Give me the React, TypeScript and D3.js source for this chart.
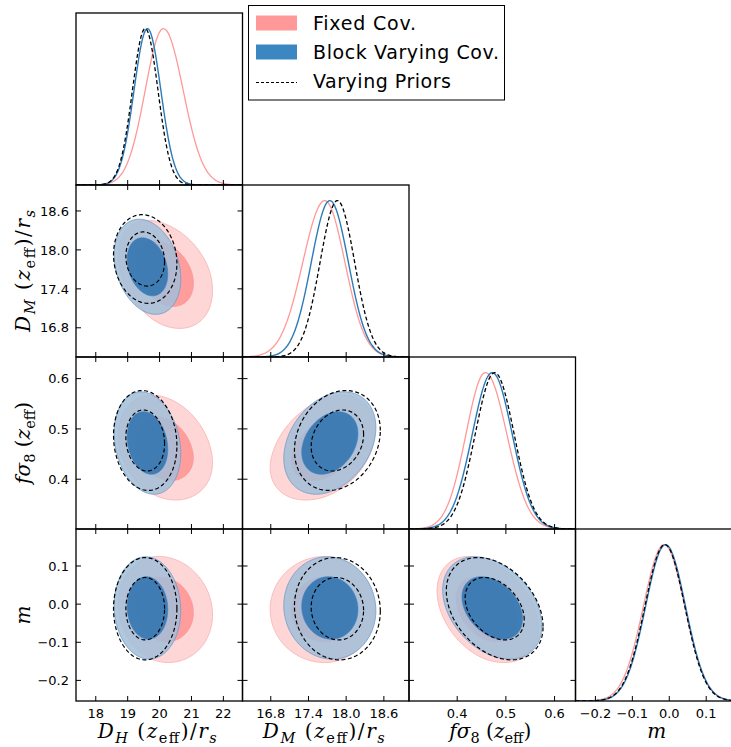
import { useEffect, useRef } from 'react';
import * as d3 from 'd3';

// parameters in plotting order: D_H, D_M, f sigma_8, m
const axisDomains: [number, number][] = [
  [17.38, 22.6],
  [16.35, 19.0],
  [0.301, 0.643],
  [-0.254, 0.197],
];
const tickValues = [
  [18, 19, 20, 21, 22],
  [16.8, 17.4, 18.0, 18.6],
  [0.4, 0.5, 0.6],
  [-0.2, -0.1, 0.0, 0.1],
];
const tickFormats = ['d', '.1f', '.1f', '.1f'];

const seriesNames = ['Fixed Cov.', 'Block Varying Cov.', 'Varying Priors'];

// posterior summaries (mean, lower / upper sigma)
const fixedMean = [20.12, 17.66, 0.458, -0.014];
const fixedSigmaLo = [0.57, 0.35, 0.04, 0.056];
const fixedSigmaHi = [0.62, 0.32, 0.044, 0.056];
const blockMean = [19.62, 17.74, 0.472, -0.01];
const blockSigmaLo = [0.42, 0.295, 0.041, 0.054];
const blockSigmaHi = [0.42, 0.295, 0.041, 0.054];
const priorsMean = [19.55, 17.86, 0.477, -0.012];
const priorsSigmaLo = [0.4, 0.275, 0.04, 0.054];
const priorsSigmaHi = [0.4, 0.275, 0.04, 0.054];

// correlations for pairs (0,1) (0,2) (0,3) (1,2) (1,3) (2,3)
const pairs = [[0, 1], [0, 2], [0, 3], [1, 2], [1, 3], [2, 3]];
const fixedCorr = [-0.33, -0.25, -0.1, 0.35, 0.0, -0.35];
const blockCorr = [-0.25, -0.2, -0.05, 0.3, -0.05, -0.35];
const priorsCorr = [-0.1, -0.1, 0.0, 0.2, -0.05, -0.35];

// chi2 levels (2 dof) for 68% and 95%
const contourLevels = [2.3, 6.17];

type Seg = [string, 'i' | 'r', boolean?];
const axisLabels: Seg[][] = [
  [['D', 'i'], ['H', 'i', true], [' (', 'r'], ['z', 'i'], ['eff', 'r', true], [')/', 'r'], ['r', 'i'], ['s', 'i', true]],
  [['D', 'i'], ['M', 'i', true], [' (', 'r'], ['z', 'i'], ['eff', 'r', true], [')/', 'r'], ['r', 'i'], ['s', 'i', true]],
  [['f', 'i'], ['σ', 'i'], ['8', 'r', true], [' (', 'r'], ['z', 'i'], ['eff', 'r', true], [')', 'r']],
  [['m', 'i']],
];
const axisLabelWidths = [119, 122, 82, 0];
const legendTextWidths = [103, 186, 138];

interface Series {
  mean: number[];
  lo: number[];
  hi: number[];
  corr: number[];
}

const series: Series[] = [
  { mean: fixedMean, lo: fixedSigmaLo, hi: fixedSigmaHi, corr: fixedCorr },
  { mean: blockMean, lo: blockSigmaLo, hi: blockSigmaHi, corr: blockCorr },
  { mean: priorsMean, lo: priorsSigmaLo, hi: priorsSigmaHi, corr: priorsCorr },
];

const W = 731;
const H = 747;

export default function App() {
  const svgRef = useRef<SVGSVGElement>(null);

  useEffect(() => {
    if (!svgRef.current) return;
    const svg = d3.select(svgRef.current);
    svg.selectAll('*').remove();

    const left0 = 76;
    const top0 = 13;
    const cellW = 166.5;
    const cellH = 172;
    const n = 4;
    const tickLen = 5;
    const mathFont = '"DejaVu Serif", "Liberation Serif", serif';
    const sansFont = '"DejaVu Sans", sans-serif';

    const xScale = (c: number) =>
      d3.scaleLinear().domain(axisDomains[c]).range([left0 + c * cellW, left0 + (c + 1) * cellW]);
    const yScale = (r: number) =>
      d3.scaleLinear().domain(axisDomains[r]).range([top0 + (r + 1) * cellH, top0 + r * cellH]);

    const defs = svg.append('defs');
    const sigma = (s: Series, k: number, d: number) => (d < 0 ? s.lo[k] : s.hi[k]);

    const contour = (s: Series, cx: number, cy: number, level: number) => {
      const idx = pairs.findIndex(p => p[0] === cx && p[1] === cy);
      const rho = s.corr[idx];
      const R = Math.sqrt(level);
      const angles = d3.range(0, 2 * Math.PI, Math.PI / 90);
      return angles.map(t => {
        const u = R * Math.cos(t);
        const v = R * (rho * Math.cos(t) + Math.sqrt(1 - rho * rho) * Math.sin(t));
        return [s.mean[cx] + u * sigma(s, cx, u), s.mean[cy] + v * sigma(s, cy, v)];
      });
    };

    const drawLabel = (sel: d3.Selection<SVGTextElement, unknown, null, undefined>, segs: Seg[], width: number) => {
      let shifted = false;
      segs.forEach(([t, st, sub]) => {
        const ts = sel.append('tspan').text(t)
          .attr('font-style', st === 'i' ? 'italic' : 'normal');
        if (sub) {
          ts.attr('font-size', 14.5);
          if (!shifted) ts.attr('dy', 5);
          shifted = true;
        } else if (shifted) {
          ts.attr('dy', -5);
          shifted = false;
        }
      });
      if (width > 0) sel.attr('textLength', width).attr('lengthAdjust', 'spacing');
    };

    for (let r = 0; r < n; r++) {
      for (let c = 0; c <= r; c++) {
        const x = xScale(c);
        const x0 = left0 + c * cellW;
        const y0 = top0 + r * cellH;
        const g = svg.append('g');
        const clipId = `clip-${r}-${c}`;
        defs.append('clipPath').attr('id', clipId)
          .append('rect').attr('x', x0).attr('y', y0).attr('width', cellW).attr('height', cellH);
        const plot = g.append('g').attr('clip-path', `url(#${clipId})`);

        if (r === c) {
          // 1D marginal, peak normalised to 1
          const y = d3.scaleLinear().domain([0, 1.1]).range([y0 + cellH, y0]);
          const xs = d3.range(0, 301).map(i => axisDomains[c][0] + (i / 300) * (axisDomains[c][1] - axisDomains[c][0]));
          const line = d3.line<number>()
            .x(v => x(v))
            .curve(d3.curveMonotoneX);
          const styles = [
            { stroke: '#ff9999', width: 1.3, dash: null },
            { stroke: '#2b7bba', width: 1.4, dash: null },
            { stroke: '#000', width: 1.3, dash: '4,2.5' },
          ];
          series.forEach((s, si) => {
            line.y(v => {
              const z = (v - s.mean[c]) / sigma(s, c, v - s.mean[c]);
              return y(Math.exp(-0.5 * z * z));
            });
            plot.append('path')
              .attr('d', line(xs))
              .attr('fill', 'none')
              .attr('stroke', styles[si].stroke)
              .attr('stroke-width', styles[si].width)
              .attr('stroke-dasharray', styles[si].dash);
          });
        } else {
          const y = yScale(r);
          const path = d3.line<number[]>()
            .x(p => x(p[0]))
            .y(p => y(p[1]))
            .curve(d3.curveLinearClosed);
          const [fixed, block, priors] = series;
          plot.append('path').attr('d', path(contour(fixed, c, r, contourLevels[1])))
            .attr('fill', '#ffd6d6').attr('stroke', '#f7b0b0').attr('stroke-width', 0.8);
          plot.append('path').attr('d', path(contour(fixed, c, r, contourLevels[0])))
            .attr('fill', '#ff9c9c').attr('stroke', '#f59090').attr('stroke-width', 0.6);
          plot.append('path').attr('d', path(contour(block, c, r, contourLevels[1])))
            .attr('fill', '#a2bed8').attr('fill-opacity', 0.85)
            .attr('stroke', '#6c9ccb').attr('stroke-width', 0.8);
          plot.append('path').attr('d', path(contour(block, c, r, contourLevels[0])))
            .attr('fill', '#3476b0').attr('fill-opacity', 0.9)
            .attr('stroke', '#3d7fbd').attr('stroke-width', 0.6);
          contourLevels.forEach(lv => {
            plot.append('path').attr('d', path(contour(priors, c, r, lv)))
              .attr('fill', 'none').attr('stroke', '#000')
              .attr('stroke-width', 1.2).attr('stroke-dasharray', '4,2.5');
          });

          // y ticks on both sides
          tickValues[r].forEach(tv => {
            const ty = y(tv);
            g.append('line').attr('x1', x0).attr('x2', x0 + tickLen).attr('y1', ty).attr('y2', ty)
              .attr('stroke', '#000').attr('stroke-width', 1);
            g.append('line').attr('x1', x0 + cellW).attr('x2', x0 + cellW - tickLen).attr('y1', ty).attr('y2', ty)
              .attr('stroke', '#000').attr('stroke-width', 1);
          });
        }

        // x ticks: bottom always, top for 2D panels
        tickValues[c].forEach(tv => {
          const tx = x(tv);
          g.append('line').attr('x1', tx).attr('x2', tx).attr('y1', y0 + cellH).attr('y2', y0 + cellH - tickLen)
            .attr('stroke', '#000').attr('stroke-width', 1);
          if (r !== c) {
            g.append('line').attr('x1', tx).attr('x2', tx).attr('y1', y0).attr('y2', y0 + tickLen)
              .attr('stroke', '#000').attr('stroke-width', 1);
          }
        });

        g.append('rect').attr('x', x0).attr('y', y0).attr('width', cellW).attr('height', cellH)
          .attr('fill', 'none').attr('stroke', '#000').attr('stroke-width', 1.3);

        // tick labels and axis titles
        if (r === n - 1) {
          const fmt = d3.format(tickFormats[c]);
          tickValues[c].forEach(tv => {
            svg.append('text').attr('x', x(tv)).attr('y', 717.5)
              .attr('text-anchor', 'middle').attr('font-family', sansFont).attr('font-size', 13)
              .text(fmt(tv));
          });
          const lab = svg.append('text').attr('x', x0 + cellW / 2 - 2).attr('y', 738)
            .attr('text-anchor', 'middle').attr('font-family', mathFont).attr('font-size', 20);
          drawLabel(lab, axisLabels[c], axisLabelWidths[c]);
        }
        if (c === 0 && r > 0) {
          const fmt = d3.format(tickFormats[r]);
          const y = yScale(r);
          tickValues[r].forEach(tv => {
            svg.append('text').attr('x', left0 - 7).attr('y', y(tv)).attr('dy', '0.36em')
              .attr('text-anchor', 'end').attr('font-family', sansFont).attr('font-size', 13)
              .text(fmt(tv));
          });
          const cy = y0 + cellH / 2;
          const lab = svg.append('text').attr('transform', `translate(29.5,${cy}) rotate(-90)`)
            .attr('text-anchor', 'middle').attr('font-family', mathFont).attr('font-size', 20);
          drawLabel(lab, axisLabels[r], axisLabelWidths[r]);
        }
      }
    }

    // legend
    const lg = svg.append('g');
    lg.append('rect').attr('x', 248.5).attr('y', 5.5).attr('width', 256).attr('height', 94.5)
      .attr('fill', '#fff').attr('stroke', '#000').attr('stroke-width', 1);
    const patchColors = ['#ff9999', '#3a87c1'];
    seriesNames.forEach((name, i) => {
      const cy = 23 + i * 29;
      if (i < 2) {
        lg.append('rect').attr('x', 256).attr('y', cy - 7.5).attr('width', 41).attr('height', 15)
          .attr('fill', patchColors[i]);
      } else {
        lg.append('line').attr('x1', 256).attr('x2', 297).attr('y1', cy + 1.5).attr('y2', cy + 1.5)
          .attr('stroke', '#000').attr('stroke-width', 1).attr('stroke-dasharray', '3,2');
      }
      lg.append('text').attr('x', 313).attr('y', cy + 6.5)
        .attr('font-family', sansFont).attr('font-size', 19)
        .attr('textLength', legendTextWidths[i]).attr('lengthAdjust', 'spacing')
        .text(name);
    });
  }, []);

  return (
    <svg
      ref={svgRef}
      width={W}
      height={H}
      style={{ position: 'absolute', left: 0, top: 0, background: '#fff' }}
    />
  );
}
